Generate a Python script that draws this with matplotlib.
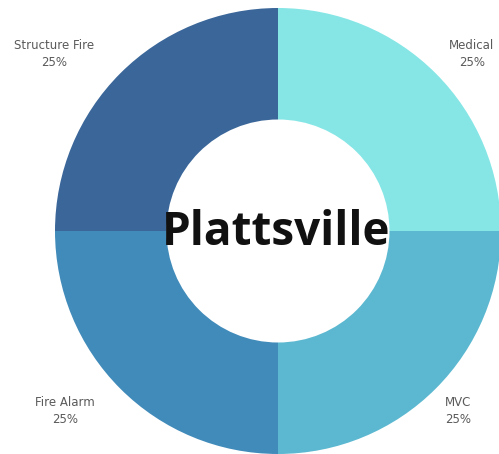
import matplotlib.pyplot as plt

# incident types and their shares
categories = ["Medical", "MVC", "Fire Alarm", "Structure Fire"]
shares = [25, 25, 25, 25]
colors = ["#86e6e6", "#5bb8d0", "#418bba", "#3a6699"]
title = "Plattsville"

# label anchor offsets around the ring (pixels from centre)
label_pos = {
    "Medical": (194, 177),
    "MVC": (180, -180),
    "Fire Alarm": (-213, -180),
    "Structure Fire": (-224, 177),
}

R = 223
fig = plt.figure(figsize=(4.99, 4.54), dpi=100)
ax = fig.add_axes([0, 0, 1, 1])
ax.pie(shares, colors=colors, startangle=90, counterclock=False, radius=R,
       wedgeprops=dict(width=R * 0.5, linewidth=0))

for cat, val in zip(categories, shares):
    x, y = label_pos[cat]
    ax.text(x, y, f"{cat}\n{val}%", ha="center", va="center",
            fontsize=8.5, color="#5a5a5a", family="DejaVu Sans",
            linespacing=1.45)

ax.text(-1.5, -14, title, ha="center", va="baseline", fontsize=33,
        fontweight="bold", color="#111111", family="Open Sans")

ax.set_xlim(-278, 221)
ax.set_ylim(-223, 231)
ax.set_aspect("equal")
ax.axis("off")

fig.savefig("out.png", dpi=100)
